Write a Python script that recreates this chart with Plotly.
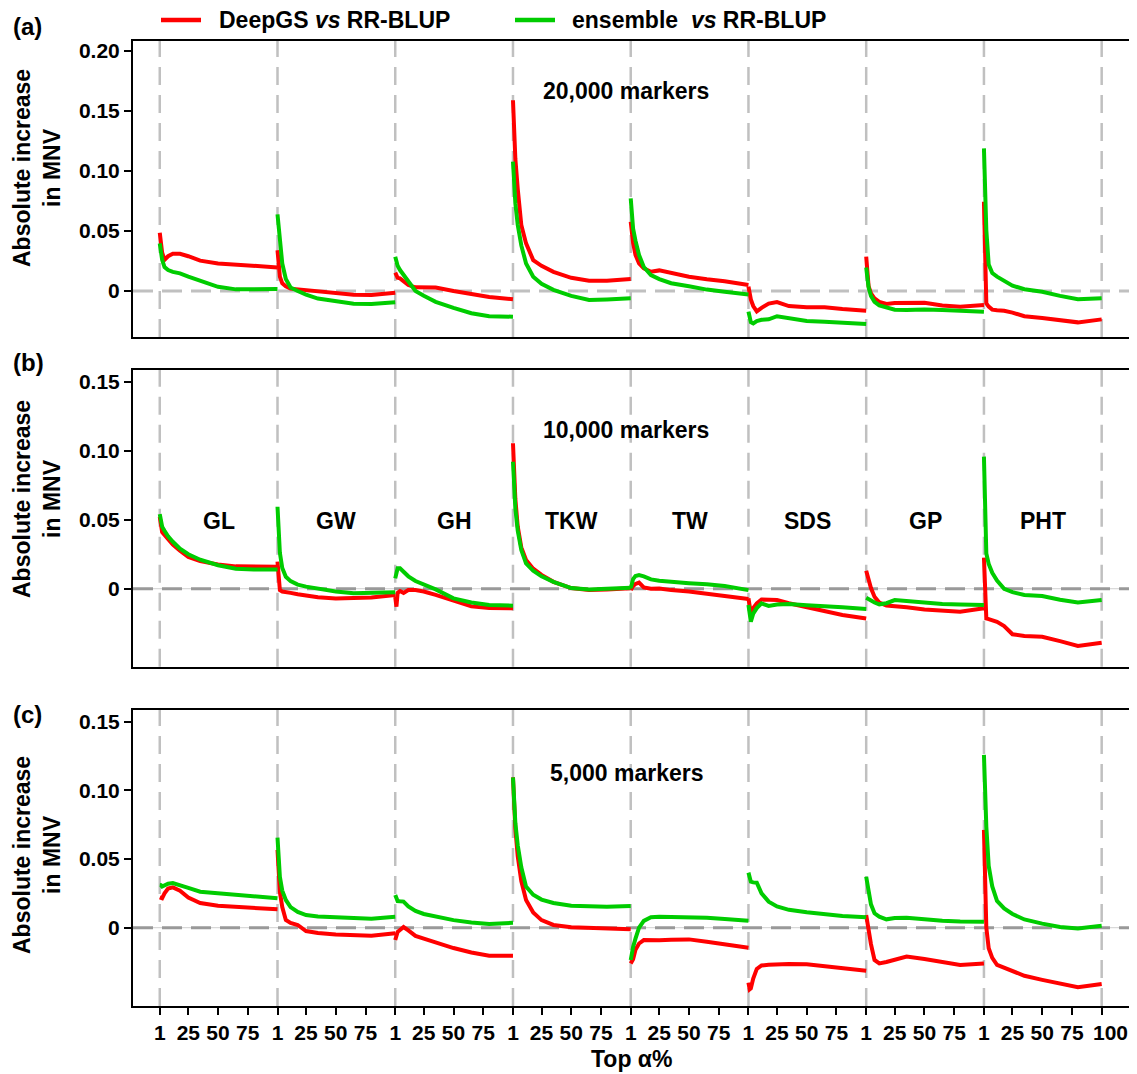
import plotly.graph_objects as go

# ---------------- data ----------------
ALPHA = [1, 2, 3, 5, 8, 12, 18, 25, 35, 50, 65, 80, 100]
TRAITS = ["GL", "GW", "GH", "TKW", "TW", "SDS", "GP", "PHT"]
X_TICK_LABELS = ["1", "25", "50", "75"]
X_TICK_ALPHA = [1, 25, 50, 75]
X_END_LABEL = "100"

# (a) 20,000 markers
deepgs_20k = [
    [0.0486, 0.040, 0.032, 0.026, 0.029, 0.031, 0.031, 0.029, 0.0253, 0.023, 0.0222, 0.021, 0.0197],
    [0.034, 0.020, 0.012, 0.0064, 0.004, 0.002, 0.0014, 0.0005, -0.0005, -0.002, -0.003, -0.0033, -0.0014],
    [0.0153, 0.012, 0.011, 0.0106, 0.008, 0.005, 0.0031, 0.003, 0.003, 0.000, -0.0025, -0.005, -0.0069],
    [0.159, 0.130, 0.110, 0.085, 0.055, 0.0397, 0.0258, 0.021, 0.016, 0.011, 0.0086, 0.0086, 0.010],
    [0.0578, 0.048, 0.040, 0.030, 0.023, 0.0189, 0.0161, 0.0172, 0.015, 0.0119, 0.0098, 0.0082, 0.005],
    [0.0036, -0.002, -0.007, -0.0125, -0.017, -0.014, -0.0105, -0.0092, -0.0125, -0.0136, -0.0136, -0.015, -0.0164],
    [0.0286, 0.012, 0.004, -0.002, -0.0061, -0.009, -0.0108, -0.010, -0.0097, -0.0097, -0.012, -0.0131, -0.0117],
    [0.0744, 0.030, -0.0103, -0.013, -0.0155, -0.016, -0.0165, -0.018, -0.021, -0.0225, -0.024, -0.0261, -0.0236],
]
ensemble_20k = [
    [0.0397, 0.033, 0.026, 0.020, 0.0175, 0.016, 0.0147, 0.012, 0.0085, 0.0035, 0.0014, 0.0012, 0.0016],
    [0.0639, 0.052, 0.040, 0.023, 0.010, 0.003, 0.000, -0.003, -0.0063, -0.0085, -0.0105, -0.0108, -0.0094],
    [0.0286, 0.024, 0.021, 0.0175, 0.0133, 0.008, 0.000, -0.004, -0.009, -0.014, -0.0185, -0.021, -0.0214],
    [0.1078, 0.088, 0.073, 0.055, 0.038, 0.023, 0.012, 0.006, 0.001, -0.004, -0.0075, -0.007, -0.0061],
    [0.0772, 0.062, 0.052, 0.042, 0.030, 0.020, 0.0133, 0.010, 0.0065, 0.004, 0.0012, -0.0005, -0.0028],
    [-0.0172, -0.022, -0.026, -0.027, -0.025, -0.024, -0.0236, -0.021, -0.0225, -0.025, -0.0255, -0.026, -0.0275],
    [0.0197, 0.010, 0.003, -0.004, -0.009, -0.012, -0.014, -0.0155, -0.0158, -0.0153, -0.0158, -0.0165, -0.0172],
    [0.1189, 0.085, 0.0508, 0.022, 0.015, 0.012, 0.0085, 0.0045, 0.0015, -0.0006, -0.004, -0.0069, -0.0061],
]

# (b) 10,000 markers
deepgs_10k = [
    [0.052, 0.048, 0.041, 0.039, 0.036, 0.032, 0.0275, 0.023, 0.020, 0.0175, 0.0162, 0.016, 0.016],
    [0.0196, 0.003, -0.001, -0.002, -0.0022, -0.003, -0.004, -0.005, -0.0062, -0.007, -0.0068, -0.0063, -0.0046],
    [-0.006, -0.013, -0.003, -0.0017, -0.003, -0.001, -0.001, -0.002, -0.0045, -0.009, -0.0128, -0.014, -0.0142],
    [0.1054, 0.085, 0.065, 0.045, 0.030, 0.0208, 0.0145, 0.010, 0.005, 0.0005, -0.001, -0.0005, 0.0003],
    [-0.001, 0.001, 0.002, 0.0035, 0.0045, 0.001, 0.000, 0.0002, -0.001, -0.002, -0.0035, -0.005, -0.0075],
    [-0.007, -0.014, -0.0178, -0.014, -0.0106, -0.0078, -0.0077, -0.0082, -0.0105, -0.0135, -0.0165, -0.019, -0.0215],
    [0.013, 0.010, 0.006, 0.0005, -0.0058, -0.010, -0.0122, -0.013, -0.0135, -0.015, -0.0162, -0.0167, -0.0142],
    [0.0225, -0.005, -0.0215, -0.022, -0.0227, -0.024, -0.027, -0.033, -0.0342, -0.0348, -0.038, -0.0415, -0.0391],
]
ensemble_10k = [
    [0.0541, 0.050, 0.045, 0.042, 0.038, 0.034, 0.029, 0.025, 0.021, 0.017, 0.0145, 0.014, 0.014],
    [0.0594, 0.040, 0.026, 0.015, 0.0087, 0.0055, 0.003, 0.0015, 0.000, -0.002, -0.0033, -0.003, -0.0026],
    [0.0075, 0.012, 0.0148, 0.0148, 0.012, 0.009, 0.0056, 0.003, -0.0005, -0.007, -0.010, -0.0118, -0.0123],
    [0.092, 0.075, 0.058, 0.042, 0.028, 0.0184, 0.013, 0.009, 0.005, 0.0005, -0.0005, 0.000, 0.0007],
    [0.0003, 0.004, 0.007, 0.0092, 0.0099, 0.009, 0.0068, 0.0058, 0.0048, 0.004, 0.0032, 0.002, -0.001],
    [-0.0118, -0.020, -0.0239, -0.018, -0.014, -0.0106, -0.0125, -0.0115, -0.0111, -0.012, -0.0125, -0.0135, -0.0147],
    [-0.0065, -0.007, -0.008, -0.009, -0.010, -0.0113, -0.0105, -0.0082, -0.009, -0.0099, -0.011, -0.0115, -0.0118],
    [0.0957, 0.060, 0.0256, 0.018, 0.0115, 0.006, 0.000, -0.0025, -0.0045, -0.0053, -0.008, -0.0099, -0.0082],
]

# (c) 5,000 markers
deepgs_5k = [
    [0.0221, 0.022, 0.0214, 0.025, 0.0285, 0.0294, 0.027, 0.022, 0.018, 0.016, 0.0152, 0.0145, 0.0134],
    [0.0566, 0.040, 0.026, 0.015, 0.0056, 0.0035, 0.002, -0.0024, -0.0038, -0.005, -0.0056, -0.0058, -0.0041],
    [-0.009, -0.004, -0.003, -0.0017, 0.0005, -0.002, -0.006, -0.008, -0.011, -0.0148, -0.018, -0.0204, -0.0204],
    [0.1095, 0.088, 0.072, 0.052, 0.034, 0.0202, 0.011, 0.0055, 0.002, 0.0003, -0.0003, -0.0008, -0.0012],
    [-0.026, -0.025, -0.023, -0.016, -0.0115, -0.009, -0.0092, -0.0092, -0.0088, -0.0085, -0.0102, -0.012, -0.0146],
    [-0.040, -0.0449, -0.0442, -0.037, -0.030, -0.0275, -0.027, -0.0265, -0.0264, -0.0266, -0.028, -0.0298, -0.0313],
    [0.0092, 0.003, -0.002, -0.012, -0.0235, -0.026, -0.025, -0.0235, -0.021, -0.0228, -0.025, -0.0272, -0.026],
    [0.0712, 0.030, 0.000, -0.015, -0.022, -0.027, -0.029, -0.032, -0.035, -0.038, -0.041, -0.0434, -0.041],
]
ensemble_5k = [
    [0.0311, 0.031, 0.030, 0.031, 0.032, 0.0325, 0.0311, 0.029, 0.0262, 0.025, 0.0238, 0.0228, 0.0214],
    [0.0656, 0.050, 0.037, 0.027, 0.0202, 0.015, 0.0115, 0.0092, 0.0082, 0.0076, 0.0068, 0.0066, 0.008],
    [0.0238, 0.021, 0.0194, 0.0192, 0.019, 0.0155, 0.0122, 0.010, 0.0082, 0.0055, 0.0038, 0.0027, 0.0036],
    [0.1095, 0.090, 0.076, 0.060, 0.044, 0.0299, 0.024, 0.0205, 0.018, 0.016, 0.0153, 0.0153, 0.0158],
    [-0.0235, -0.018, -0.014, -0.008, 0.000, 0.005, 0.0076, 0.008, 0.0078, 0.008, 0.0072, 0.0063, 0.0051],
    [0.0401, 0.035, 0.0335, 0.033, 0.0328, 0.025, 0.019, 0.0155, 0.013, 0.0112, 0.0095, 0.0085, 0.0076],
    [0.0371, 0.031, 0.025, 0.017, 0.0105, 0.008, 0.0061, 0.007, 0.0073, 0.006, 0.005, 0.0045, 0.0044],
    [0.1258, 0.095, 0.0736, 0.045, 0.030, 0.0195, 0.014, 0.010, 0.006, 0.003, 0.0005, -0.0005, 0.0015],
]

PANELS = [
    ("(a)", "20,000 markers", deepgs_20k, ensemble_20k, [-0.0383, 0.2086], [0, 0.05, 0.10, 0.15, 0.20]),
    ("(b)", "10,000 markers", deepgs_10k, ensemble_10k, [-0.0565, 0.1585], [0, 0.05, 0.10, 0.15]),
    ("(c)", "5,000 markers", deepgs_5k, ensemble_5k, [-0.057, 0.1585], [0, 0.05, 0.10, 0.15]),
]
Y_TICK_TEXT = {0: "0", 0.05: "0.05", 0.10: "0.10", 0.15: "0.15", 0.20: "0.20"}

# ---------------- layout helpers ----------------
OFF = 8  # page body margin: figure starts at (8, 8) of the screenshot
W, H = 1137 - OFF, 1074 - OFF
ML = 133 - OFF
PW = W - ML
SEG = 99  # x units per trait block (alpha 1..100)
XRANGE = [-22.5, 821.7]
# panel pixel extents in screenshot coordinates (top, bottom)
PANEL_PX = [(40.7, 337.0), (370.0, 666.7), (710.0, 1006.0)]
FONT = "Liberation Sans, Arial, sans-serif"
RED = "#ff0000"
GREEN = "#00cc00"


def px_x(px):
    return (px - OFF - ML) / PW


def px_y(py):
    return 1 - (py - OFF) / H


def seg_xy(blocks):
    xs, ys = [], []
    for k, vals in enumerate(blocks):
        for a, v in zip(ALPHA, vals):
            xs.append(k * SEG + (a - 1))
            ys.append(v)
        xs.append(None)
        ys.append(None)
    return xs, ys


fig = go.Figure()
shapes = []
annotations = []

for i, (lab, title, deep, ens, yr, ytv) in enumerate(PANELS):
    n = "" if i == 0 else str(i + 1)
    xa, ya = "x" + n, "y" + n
    for name, data, col in (("DeepGS vs RR-BLUP", deep, RED), ("ensemble vs RR-BLUP", ens, GREEN)):
        xs, ys = seg_xy(data)
        fig.add_trace(go.Scatter(x=xs, y=ys, mode="lines", name=name, showlegend=False,
                                 line=dict(color=col, width=4), connectgaps=False,
                                 xaxis=xa, yaxis=ya, hoverinfo="skip"))
    top, bot = PANEL_PX[i]
    dom = [px_y(bot), px_y(top)]
    is_last = i == 2
    tickvals, ticktext = [], []
    for k in range(8):
        for a, t in zip(X_TICK_ALPHA, X_TICK_LABELS):
            tickvals.append(k * SEG + a - 1)
            ticktext.append(t)
    tickvals.append(8 * SEG)
    ticktext.append("")  # end label drawn separately (sits slightly right of its tick)
    fig.layout["xaxis" + n] = dict(
        domain=[0, 1], range=XRANGE, anchor=ya, showgrid=False, zeroline=False,
        showline=True, mirror=True, linecolor="black", linewidth=2,
        ticks="outside" if is_last else "", ticklen=7, tickwidth=2, tickcolor="black",
        tickvals=tickvals if is_last else [], ticktext=ticktext if is_last else [],
        showticklabels=is_last, tickangle=0, automargin=False,
        tickfont=dict(family=FONT, size=21, color="black", weight="bold"),
    )
    fig.layout["yaxis" + n] = dict(
        domain=dom, range=yr, anchor=xa, showgrid=False, zeroline=False,
        showline=True, mirror=False, linecolor="black", linewidth=2,
        ticks="outside", ticklen=7, tickwidth=2, tickcolor="black", automargin=False,
        tickvals=ytv, ticktext=[Y_TICK_TEXT[v] for v in ytv],
        tickfont=dict(family=FONT, size=21, color="black", weight="bold"),
    )
    # vertical dashed separators
    for k in range(9):
        shapes.append(dict(type="line", xref=xa, yref=ya + " domain", x0=k * SEG, x1=k * SEG,
                           y0=0, y1=1, layer="below",
                           line=dict(color="#c0c0c0", width=2.5, dash="18px,10px")))
    # zero line
    if i > 0:
        shapes.append(dict(type="line", xref=xa + " domain", yref=ya, x0=0, x1=1, y0=0, y1=0,
                           layer="below", line=dict(color="#d0d0d0", width=1)))
    shapes.append(dict(type="line", xref=xa + " domain", yref=ya, x0=0, x1=1, y0=0, y1=0,
                       layer="below",
                       line=dict(color="#c0c0c0" if i == 0 else "#999999", width=3, dash="20px,9px")))
    # panel label
    lab_y = [27, 363, 714][i]
    annotations.append(dict(text="<b>%s</b>" % lab, xref="paper", yref="paper",
                            x=px_x(11), y=px_y(lab_y), xanchor="left", yanchor="middle",
                            showarrow=False, font=dict(family=FONT, size=24, color="black")))
    # marker-count annotation
    tl_y = [91, 430, 773][i]
    annotations.append(dict(text="<b>%s</b>" % title, xref="paper", yref="paper",
                            x=px_x(626), y=px_y(tl_y), xanchor="center", yanchor="middle",
                            showarrow=False, font=dict(family=FONT, size=23, color="black")))
    # y-axis title
    yt_y = [168, 499, 855][i]
    annotations.append(dict(text="<b>Absolute increase<br>in MNV</b>", xref="paper", yref="paper",
                            x=px_x(37), y=px_y(yt_y), xanchor="center", yanchor="middle",
                            textangle=-90, showarrow=False, borderpad=0,
                            font=dict(family=FONT, size=23, color="black")))

# end-of-axis "100" label
annotations.append(dict(text="<b>%s</b>" % X_END_LABEL, xref="paper", yref="paper",
                        x=px_x(1110), y=px_y(1032), xanchor="center", yanchor="middle",
                        showarrow=False, font=dict(family=FONT, size=21, color="black")))

# trait labels in panel (b)
for k, t in enumerate(TRAITS):
    annotations.append(dict(text="<b>%s</b>" % t, xref="x2", yref="paper",
                            x=k * SEG + 49.5, y=px_y(521), xanchor="center", yanchor="middle",
                            showarrow=False, font=dict(family=FONT, size=23, color="black")))

# x-axis title
annotations.append(dict(text="<b>Top α%</b>", xref="paper", yref="paper",
                        x=px_x(631), y=px_y(1059), xanchor="center", yanchor="middle",
                        showarrow=False, font=dict(family=FONT, size=23, color="black")))

# legend (drawn as swatches + labels)
LEG = [("<b>DeepGS <i>vs</i> RR-BLUP</b>", RED, 161, 201, 217),
       ("<b>ensemble  <i>vs</i> RR-BLUP</b>", GREEN, 515, 555, 570)]
for txt, col, lx0, lx1, tx in LEG:
    shapes.append(dict(type="line", xref="paper", yref="paper", x0=px_x(lx0), x1=px_x(lx1),
                       y0=px_y(20), y1=px_y(20), line=dict(color=col, width=4.5)))
    annotations.append(dict(text=txt, xref="paper", yref="paper", x=px_x(tx), y=px_y(20),
                            xanchor="left", yanchor="middle", showarrow=False,
                            font=dict(family=FONT, size=23, color="black")))

fig.update_layout(
    width=W, height=H,
    margin=dict(l=ML, r=0, t=0, b=0, autoexpand=False),
    paper_bgcolor="white", plot_bgcolor="white",
    showlegend=False,
    shapes=shapes, annotations=annotations,
    font=dict(family=FONT, color="black"),
)

fig.write_html("out.html")
